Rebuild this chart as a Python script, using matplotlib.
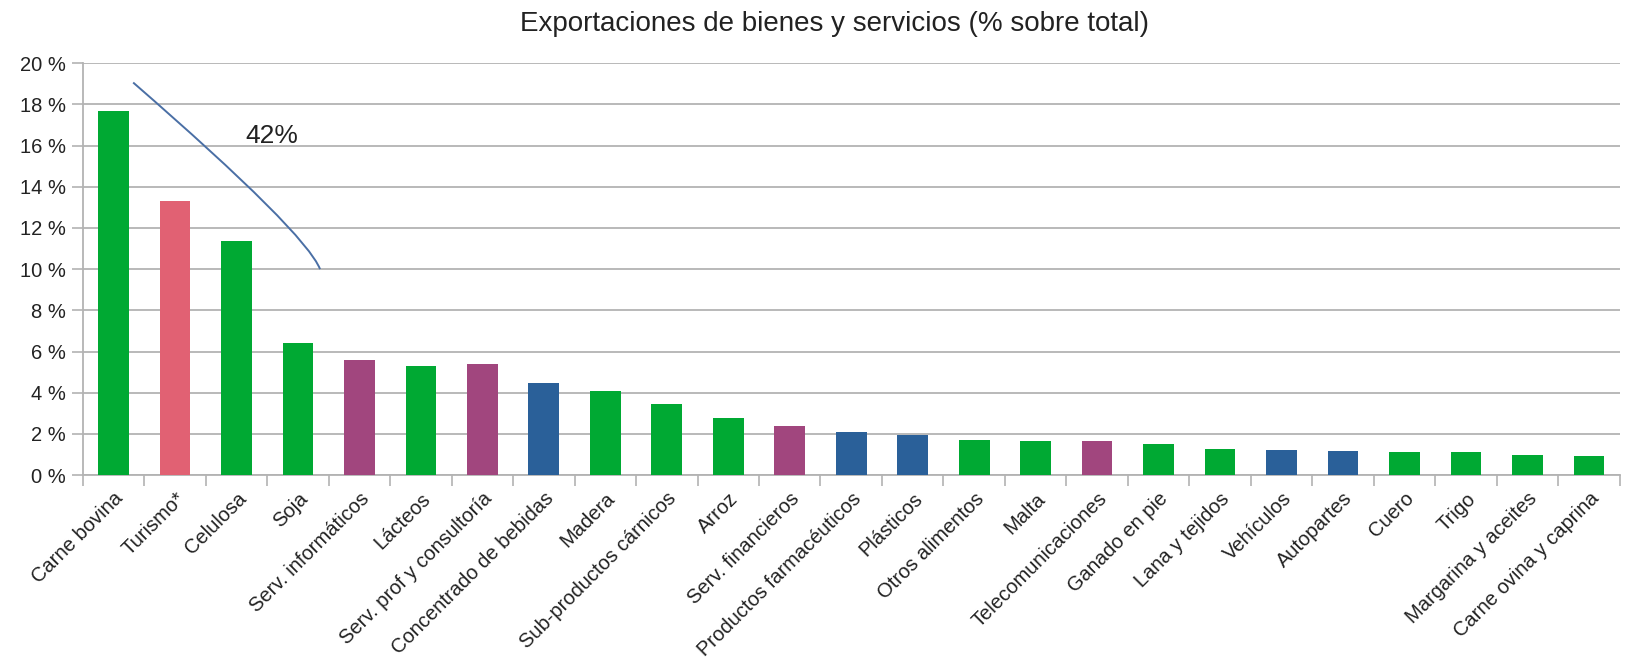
import numpy as np
import matplotlib
matplotlib.use("Agg")
import matplotlib.pyplot as plt
from matplotlib.path import Path
from matplotlib.patches import PathPatch

plt.rcParams['font.family'] = ['Liberation Sans', 'DejaVu Sans']

# datos
categorias = ["Carne bovina", "Turismo*", "Celulosa", "Soja", "Serv. informáticos",
              "Lácteos", "Serv. prof y consultoría", "Concentrado de bebidas", "Madera",
              "Sub-productos cárnicos", "Arroz", "Serv. financieros",
              "Productos farmacéuticos", "Plásticos", "Otros alimentos", "Malta",
              "Telecomunicaciones", "Ganado en pie", "Lana y tejidos", "Vehículos",
              "Autopartes", "Cuero", "Trigo", "Margarina y aceites",
              "Carne ovina y caprina"]
valores = [17.70, 13.33, 11.38, 6.42, 5.60, 5.31, 5.37, 4.47, 4.10, 3.45, 2.78, 2.39,
           2.07, 1.95, 1.71, 1.66, 1.64, 1.50, 1.25, 1.24, 1.17, 1.14, 1.12, 0.98, 0.94]
# tipo: a = agro, t = turismo, s = servicios, i = industria
tipos = ["a", "t", "a", "a", "s", "a", "s", "i", "a", "a", "a", "s", "i", "i", "a",
         "a", "s", "a", "a", "i", "i", "a", "a", "a", "a"]
yticks = np.arange(0, 21, 2)

colores_tipo = {"a": "#00a933", "t": "#e16173", "s": "#a1467e", "i": "#2a6099"}
colores = [colores_tipo[t] for t in tipos]

fig = plt.figure(figsize=(16.42, 6.72), dpi=100)
ax = fig.add_axes([0.0504, 0.293, 0.936, 0.613])

x = np.arange(len(categorias))
ax.bar(x, valores, width=0.5, color=colores, zorder=3)

ax.set_xlim(-0.5, len(categorias) - 0.5)
ax.set_ylim(0, 20)
ax.set_yticks(yticks)
ax.set_yticklabels([f"{v} %" for v in yticks], fontsize=14.5, color="#222222")
ax.yaxis.grid(True, color="#b3b3b3", linewidth=1.3, zorder=0)

# ticks del eje x entre categorias
ax.set_xticks(np.arange(-0.5, len(categorias), 1.0))
ax.set_xticklabels([])
ax.set_xticks(x, minor=True)
ax.set_xticklabels(categorias, minor=True, rotation=45, ha="right",
                   rotation_mode="anchor", fontsize=14.5, color="#222222")
ax.tick_params(axis="x", which="major", length=8, color="#b3b3b3", width=1.2)
ax.tick_params(axis="x", which="minor", length=0, pad=10)
ax.tick_params(axis="y", length=8, color="#b3b3b3", width=1.2, pad=4)

for s in ["top", "right"]:
    ax.spines[s].set_visible(False)
for s in ["left", "bottom"]:
    ax.spines[s].set_color("#b3b3b3")
    ax.spines[s].set_linewidth(1.3)

# curva sobre los 4 primeros
curva = Path([(0.32, 19.06), (3.12, 11.8), (3.36, 10.0)],
             [Path.MOVETO, Path.CURVE3, Path.CURVE3])
ax.add_patch(PathPatch(curva, facecolor="none", edgecolor="#4a6fa5", lw=1.4, zorder=4))
ax.text(2.57, 16.47, "42%", fontsize=19, ha="center", va="center", color="#222222")

fig.text(0.508, 0.964, "Exportaciones de bienes y servicios (% sobre total)",
         ha="center", va="center", fontsize=20, color="#222222")

fig.savefig("out.png", dpi=100)
